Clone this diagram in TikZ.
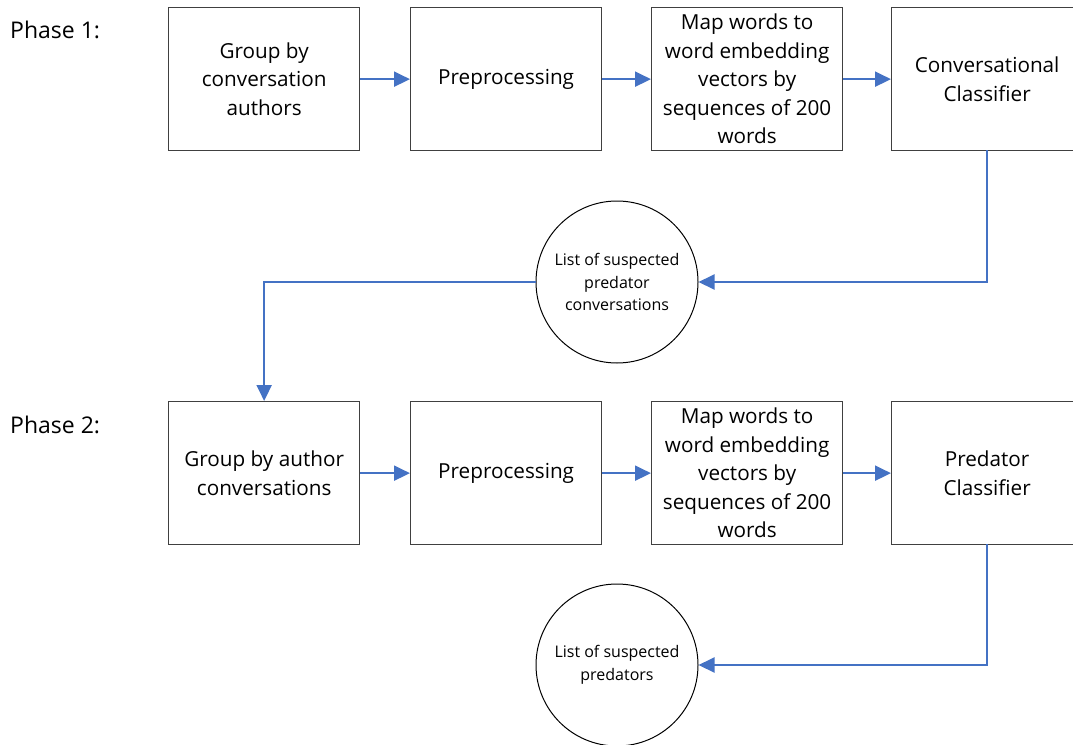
\documentclass[tikz,border=0pt]{standalone}
\usepackage{fontspec}
\setmainfont{Open Sans}
\usetikzlibrary{arrows.meta}
\definecolor{linkblue}{HTML}{4472C4}
\definecolor{boxgray}{HTML}{404040}
\tikzset{
  stepbox/.style={draw=boxgray, line width=1.3pt, fill=white, minimum width=191pt, minimum height=143pt, inner sep=0pt, align=center, font=\fontsize{20.7}{28.5}\selectfont, anchor=north west},
  listcircle/.style={draw=black, line width=1pt, circle, minimum size=162pt, inner sep=0pt, align=center, font=\fontsize{16}{22.5}\selectfont},
  flow/.style={draw=linkblue, line width=2pt, -{Triangle[length=16pt,width=15pt]}},
  phaselabel/.style={font=\fontsize{23}{26}\selectfont, anchor=west, inner sep=0pt}
}
\begin{document}
\begin{tikzpicture}[x=1pt,y=-1pt]
\useasboundingbox (0,0) rectangle (1073,744);
\begin{scope}
\clip (0,0) rectangle (1073,744);
\node[phaselabel] (ph1) at (10,30) {Phase 1:};
\node[phaselabel] (ph2) at (10,425) {Phase 2:};
% phase 1
\node[stepbox] (a1) at (168,7) {Group by\\conversation\\authors};
\node[stepbox] (b1) at (410,7) {Preprocessing};
\node[stepbox] (c1) at (651,7) {Map words to\\word embedding\\vectors by\\sequences of 200\\words};
\node[stepbox] (d1) at (891,7) {Conversational\\Classifier};
\node[listcircle] (l1) at (617,282) {List of suspected\\predator\\conversations};
% phase 2
\node[stepbox] (a2) at (168,401) {Group by author\\conversations};
\node[stepbox] (b2) at (410,401) {Preprocessing};
\node[stepbox] (c2) at (651,401) {Map words to\\word embedding\\vectors by\\sequences of 200\\words};
\node[stepbox] (d2) at (891,401) {Predator\\Classifier};
\node[listcircle] (l2) at (617,665) {List of suspected\\predators};
\coordinate (d1b) at (987,150);
\coordinate (d2b) at (987,544);
% connectors
\draw[flow] (a1) -- (b1);
\draw[flow] (b1) -- (c1);
\draw[flow] (c1) -- (d1);
\draw[flow] (d1b) |- (l1.east);
\draw[flow] (l1.west) -| (a2.north);
\draw[flow] (a2) -- (b2);
\draw[flow] (b2) -- (c2);
\draw[flow] (c2) -- (d2);
\draw[flow] (d2b) |- (l2.east);
\end{scope}
\end{tikzpicture}
\end{document}
